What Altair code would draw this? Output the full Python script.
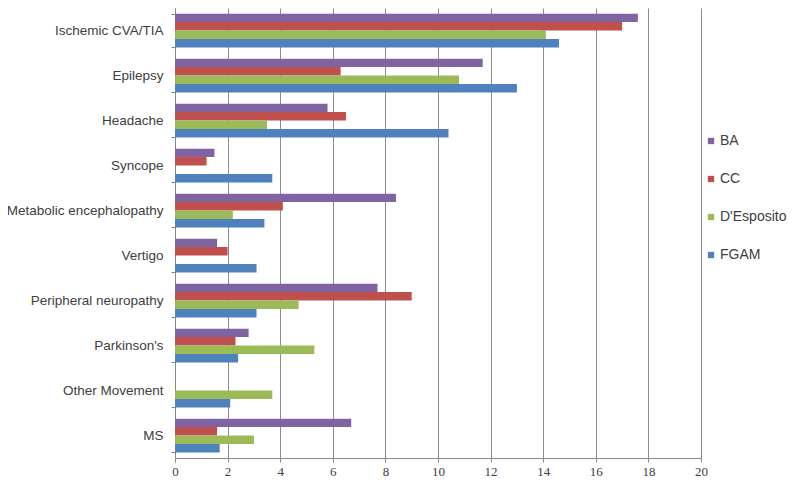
import altair as alt
import pandas as pd

categories = ["Ischemic CVA/TIA", "Epilepsy", "Headache", "Syncope",
              "Metabolic encephalopathy", "Vertigo", "Peripheral neuropathy",
              "Parkinson's", "Other Movement", "MS"]
series = ["BA", "CC", "D'Esposito", "FGAM"]
ba = [17.6, 11.7, 5.8, 1.5, 8.4, 1.6, 7.7, 2.8, 0.0, 6.7]
cc = [17.0, 6.3, 6.5, 1.2, 4.1, 2.0, 9.0, 2.3, 0.0, 1.6]
desp = [14.1, 10.8, 3.5, 0.0, 2.2, 0.0, 4.7, 5.3, 3.7, 3.0]
fgam = [14.6, 13.0, 10.4, 3.7, 3.4, 3.1, 3.1, 2.4, 2.1, 1.7]
colors = ["#8064A2", "#C0504D", "#9BBB59", "#4F81BD"]
x_ticks = list(range(0, 21, 2))

rows = []
for s, vals in zip(series, [ba, cc, desp, fgam]):
    for c, v in zip(categories, vals):
        rows.append({"category": c, "series": s, "value": v})
df = pd.DataFrame(rows)

chart = alt.Chart(df).mark_bar().encode(
    y=alt.Y("category:N", sort=categories, title=None,
            scale=alt.Scale(paddingInner=0.25, paddingOuter=0.125),
            axis=alt.Axis(tickBand="extent", tickSize=4, labelPadding=8,
                          labelFont="Liberation Sans", labelFontSize=13.5,
                          labelColor="#404040", domainColor="#888888",
                          tickColor="#888888", grid=False, labelLimit=300)),
    yOffset=alt.YOffset("series:N", sort=series,
                        scale=alt.Scale(paddingInner=0, paddingOuter=0)),
    x=alt.X("value:Q", title=None,
            scale=alt.Scale(domain=[0, 20], nice=False),
            axis=alt.Axis(values=x_ticks, tickSize=4, labelPadding=3,
                          labelFont="Liberation Serif", labelFontSize=13,
                          labelColor="#404040", domainColor="#888888",
                          tickColor="#888888", grid=True, gridColor="#8c8c8c",
                          gridWidth=1, labelFlush=False)),
    color=alt.Color("series:N", sort=series,
                    scale=alt.Scale(domain=series, range=colors),
                    legend=alt.Legend(title=None, orient="none", legendX=529,
                                      legendY=126, symbolType="square",
                                      symbolSize=40, symbolStrokeWidth=0,
                                      labelFont="Liberation Sans",
                                      labelFontSize=14, labelColor="#404040",
                                      rowPadding=24, padding=0, labelOffset=2)),
).properties(
    width=526, height=450,
    autosize=alt.AutoSizeParams(type="none"),
    padding={"left": 167, "top": 0, "right": 91, "bottom": 25},
).configure_view(stroke=None)

chart.save("out.html", embed_options={"renderer": "svg", "actions": False})
